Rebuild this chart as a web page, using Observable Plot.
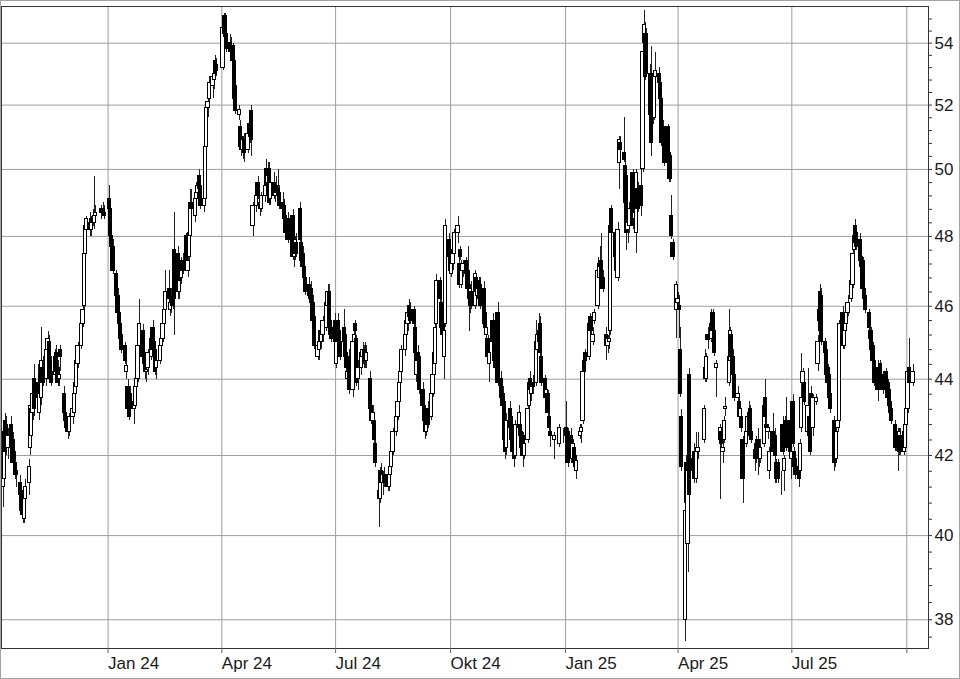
<!DOCTYPE html>
<html><head><meta charset="utf-8">
<script src="https://cdn.jsdelivr.net/npm/d3@7"></script>
<script src="https://cdn.jsdelivr.net/npm/@observablehq/plot@0.6"></script>
<style>
html,body{margin:0;padding:0;background:#fff;}
#chart{position:relative;width:960px;height:679px;overflow:hidden;}
#chart::after{content:"";position:absolute;left:0;top:0;right:0;bottom:0;border:1px solid #a3a3a3;pointer-events:none;}
#chart svg{display:block;}
</style></head>
<body><div id="chart"></div>
<script>
// ---- axis ticks / labels ----
const yTicks = [38, 40, 42, 44, 46, 48, 50, 52, 54];
const yMinorTicks = [37.6, 38.4, 38.8, 39.2, 39.6, 40.4, 40.8, 41.2, 41.6, 42.4, 42.8, 43.2, 43.6,
  44.4, 44.8, 45.2, 45.6, 46.4, 46.8, 47.2, 47.6, 48.4, 48.8, 49.2, 49.6, 50.4, 50.8, 51.2, 51.6,
  52.4, 52.8, 53.2, 53.6, 54.4, 54.8];
const xTickDates = ["2024-01-01", "2024-04-01", "2024-07-01", "2024-10-01", "2025-01-01", "2025-04-01", "2025-07-01", "2025-10-01"];
const xTickLabels = ["Jan 24", "Apr 24", "Jul 24", "Okt 24", "Jan 25", "Apr 25", "Jul 25", ""];

// ---- trading calendar ----
const firstDay = "2023-10-09";
const holidays = ["2023-12-25", "2023-12-26", "2024-01-01", "2024-03-29", "2024-04-01", "2024-05-01",
  "2024-12-24", "2024-12-25", "2024-12-26", "2024-12-31", "2025-01-01", "2025-04-18", "2025-04-21", "2025-05-01"];

// ---- daily OHLC (one line per week) ----
const open = [
41.2,41.4,42.9,42.8,42.2,
42.8,42.4,42.1,41.8,41.6,
41.3,41.1,40.8,40.4,40.9,
41.3,42.2,42.5,43.1,44.0,
43.9,43.1,44.1,43.5,44.3,
44.0,44.8,45.0,44.5,44.2,
44.1,44.7,44.3,44.0,44.8,
43.6,43.1,43.0,42.9,42.6,
43.0,43.1,43.6,43.8,44.4,
44.9,45.5,46.0,47.5,48.2,
48.4,48.2,48.5,48.4,48.6,
48.7,48.8,48.7,
49.1,48.8,48.0,47.7,
46.9,46.3,45.8,45.5,45.2,
44.9,44.2,43.8,43.4,43.6,
43.2,43.3,43.8,44.0,44.9,
45.3,44.6,44.4,44.2,44.3,
44.6,45.4,45.0,44.8,44.3,
44.5,44.9,45.1,45.5,45.9,
46.5,45.9,46.1,46.3,47.6,
47.5,46.4,47.0,46.8,47.3,
48.0,47.0,47.4,48.0,49.0,
48.6,49.1,49.3,49.8,49.5,
48.9,49.1,50.7,51.9,52.2,
52.6,52.8,53.4,53.3,
53.2,54.3,54.9,54.3,
54.0,53.9,53.9,53.4,52.6,
51.7,51.3,51.0,50.6,50.9,
50.6,51.4,51.3,51.8,48.3,
48.9,49.6,49.0,48.8,
49.2,50.0,49.6,50.0,49.1,
49.6,49.2,49.5,49.4,49.3,
49.0,48.9,48.6,48.2,48.5,
48.0,48.6,47.4,47.5,47.8,
48.8,47.8,47.5,47.1,46.8,
46.6,46.2,46.5,46.1,45.7,
44.6,44.8,45.3,45.0,45.2,
45.4,46.0,46.4,45.6,45.4,
45.6,44.4,45.6,45.3,45.0,
45.4,45.2,44.7,44.0,44.6,
43.7,45.0,45.5,45.1,44.0,
44.3,44.6,44.5,44.8,44.5,
44.0,43.3,42.9,42.9,42.3,
41.1,40.9,41.6,41.3,41.5,
41.5,41.2,41.5,41.7,42.1,
42.6,43.0,43.4,43.9,44.2,
44.8,45.2,45.5,46.0,45.9,
45.9,45.4,44.1,44.7,44.6,
43.7,43.3,43.0,42.6,43.2,
43.0,43.6,44.1,44.4,45.5,
46.7,46.1,45.6,44.6,45.5,
47.9,47.6,46.9,47.2,47.5,
48.1,47.2,47.6,46.6,47.0,
47.3,47.0,46.6,46.0,46.4,
46.0,46.8,46.3,46.7,46.6,
46.5,45.8,45.2,45.1,44.4,
45.6,45.4,45.0,44.8,45.8,
44.0,43.6,43.4,42.7,42.2,
43.2,43.0,42.6,42.3,42.0,
42.7,42.8,42.6,42.5,42.0,
42.4,43.3,44.0,43.6,43.9,
43.9,44.8,45.3,45.5,44.6,
44.0,43.5,43.6,43.0,42.6,
42.4,42.3,
42.5,42.7,42.6,
42.5,41.9,42.2,42.0,41.6,
42.5,42.6,42.9,44.5,44.7,
44.6,45.7,45.6,45.0,45.6,
46.0,46.8,47.3,47.3,46.8,
45.2,44.9,45.0,45.3,48.8,
48.1,47.4,46.8,50.2,50.8,
50.5,50.1,49.8,48.2,48.3,
49.9,48.5,48.7,48.1,49.4,
49.5,50.0,54.0,54.3,54.3,
53.0,52.1,52.9,51.6,52.9,
53.0,52.7,52.2,51.3,51.0,
51.3,50.5,50.4,48.6,47.8,
45.9,46.1,46.0,44.8,43.0,
38.0,41.8,39.8,44.1,41.9,
42.1,42.1,41.4,42.1,
42.4,44.0,44.0,45.2,
45.1,45.8,45.3,44.3,
42.4,42.6,42.1,42.4,43.2,
43.9,44.5,45.2,44.6,44.1,
43.5,43.4,43.0,43.0,42.4,
42.3,42.6,43.1,43.2,42.6,
41.9,42.3,42.4,41.9,41.9,
42.3,43.5,42.8,42.6,41.6,
42.6,42.5,42.5,41.8,41.8,
41.3,42.8,41.6,42.9,42.9,
42.9,41.9,43.4,42.1,41.9,
41.7,41.6,42.7,43.9,43.9,
42.6,43.0,42.9,43.6,42.7,
43.4,44.4,45.9,46.4,46.3,
45.0,44.8,44.3,44.1,43.6,
42.9,42.5,41.9,42.7,42.9,
45.8,44.9,45.3,45.5,45.8,
46.2,46.6,47.6,48.3,48.1,
47.9,47.4,47.3,46.5,46.3,
45.8,45.1,45.3,44.9,44.5,
44.3,44.2,44.4,43.9,44.1,
44.2,43.9,43.7,43.4,43.2,
42.8,42.2,42.6,42.1,42.5,
42.1,42.2,42.8,43.2,44.3,
43.9
];
const high = [
41.5,42.8,43.1,43.0,42.7,
43.0,42.6,42.3,42.0,41.8,
41.5,41.3,41.0,41.2,41.4,
41.9,43.5,43.4,43.9,44.4,
44.4,43.7,44.3,45.4,44.6,
44.9,45.3,45.2,44.7,44.6,
44.8,44.9,44.5,44.3,44.9,
43.8,43.3,43.1,43.0,43.1,
43.3,43.7,44.0,44.6,45.0,
45.6,46.1,47.6,48.5,48.6,
48.7,48.6,48.8,49.8,48.9,
48.9,49.0,48.9,
49.5,49.0,48.3,47.9,
47.0,46.5,46.0,45.7,45.3,
45.0,44.5,44.0,43.6,43.8,
43.5,44.6,44.2,45.0,46.2,
45.5,44.9,44.6,44.4,44.8,
45.2,45.6,45.2,45.0,44.6,
45.0,45.2,45.6,46.0,47.0,
47.0,46.2,46.5,46.6,48.7,
47.7,47.0,47.3,47.4,47.5,
48.1,47.4,48.2,49.4,49.4,
49.2,49.6,49.7,50.0,49.6,
49.3,50.8,52.0,52.3,52.9,
53.1,53.2,53.6,53.5,
54.7,55.0,55.0,54.5,
54.3,54.2,54.0,53.6,52.8,
52.0,51.5,51.2,51.0,51.1,
51.2,51.6,51.5,52.0,49.0,
49.3,49.8,49.1,49.3,
49.6,50.3,50.2,50.2,49.7,
49.9,49.6,49.8,50.0,49.5,
49.3,49.1,48.8,48.4,48.7,
48.4,48.8,47.8,48.0,48.1,
49.0,48.0,47.7,47.3,47.0,
46.8,46.6,46.7,46.3,45.9,
45.0,45.1,45.5,45.4,45.7,
46.2,46.6,46.6,45.8,45.6,
45.8,45.1,45.8,45.5,45.3,
45.9,45.4,44.9,44.3,44.8,
45.2,45.4,45.6,45.2,44.5,
44.8,45.0,44.9,45.0,44.9,
44.2,43.5,43.3,43.0,42.4,
41.2,41.7,41.8,41.6,41.7,
41.6,41.6,41.8,42.2,42.7,
43.1,43.5,44.0,44.3,44.9,
45.3,45.7,45.9,46.2,46.1,
46.0,45.5,44.8,44.9,44.7,
43.9,43.5,43.2,43.0,43.4,
43.7,44.2,44.8,45.5,46.9,
46.8,46.2,45.8,45.4,48.5,
48.1,47.7,47.3,47.6,48.2,
48.6,47.4,47.7,47.3,47.3,
47.4,47.7,46.8,46.6,46.7,
47.0,46.9,46.6,46.8,46.8,
46.7,45.9,45.5,45.2,44.8,
45.8,45.6,45.2,45.0,46.1,
44.2,43.8,43.5,42.9,43.1,
43.4,43.1,42.8,42.5,42.9,
43.3,43.0,42.8,42.6,42.4,
43.4,44.0,44.2,44.0,44.1,
45.6,45.3,45.8,45.7,44.8,
44.1,43.8,43.7,43.1,42.9,
42.6,42.8,
42.7,43.4,42.7,
42.7,42.4,42.3,42.1,41.9,
42.8,42.8,44.3,44.6,44.8,
45.7,45.8,45.7,45.4,45.9,
47.4,47.3,47.7,48.1,47.0,
45.4,45.2,45.3,48.5,48.9,
48.2,47.6,48.4,51.0,51.0,
51.6,50.3,50.0,48.6,49.0,
50.0,49.2,49.7,50.0,49.6,
51.2,53.8,55.1,54.7,54.5,
53.3,53.9,53.1,53.1,53.7,
53.2,52.9,52.4,51.5,51.2,
51.4,50.7,50.5,49.2,47.9,
46.7,46.4,46.3,45.4,43.2,
40.8,42.0,41.7,44.3,42.1,
42.3,42.2,42.6,42.6,
43.3,44.8,44.7,45.4,
45.9,45.9,45.4,44.5,
42.8,42.7,42.5,43.0,43.5,
45.9,45.4,45.3,44.8,44.3,
43.8,43.6,43.3,43.1,42.5,
42.7,43.1,43.4,43.3,42.8,
42.4,42.5,42.7,42.3,42.4,
43.4,44.0,43.0,42.8,42.2,
43.1,42.6,42.7,41.9,41.9,
41.6,43.0,42.0,43.0,43.5,
43.1,42.2,43.6,42.2,42.0,
41.8,42.4,44.7,44.3,44.1,
44.3,43.2,43.0,43.8,43.6,
43.6,45.2,46.0,46.6,46.5,
45.1,44.9,44.4,44.2,43.7,
43.0,42.6,42.7,43.0,45.6,
46.0,45.5,45.7,45.9,46.3,
46.8,47.6,48.2,48.5,48.3,
48.1,47.5,47.4,46.7,46.4,
45.9,45.4,45.4,45.0,44.6,
44.5,44.3,44.5,44.2,44.2,
44.3,44.0,43.8,43.5,43.3,
42.9,42.6,42.7,42.7,42.7,
42.7,42.9,43.3,44.3,45.1,
44.4
];
const low = [
40.7,41.3,41.9,42.0,41.9,
42.0,41.6,41.7,41.4,41.2,
40.7,40.5,40.3,40.3,40.6,
41.0,42.0,42.3,42.9,43.0,
43.4,42.9,43.5,43.3,43.8,
43.8,44.6,44.2,43.9,43.8,
44.0,44.1,43.8,43.8,44.2,
43.0,42.8,42.6,42.4,42.5,
42.8,43.0,43.4,43.7,44.3,
44.8,45.4,45.9,47.4,48.0,
48.0,48.0,48.3,48.2,48.4,
48.5,48.6,48.5,
48.6,47.8,47.5,46.9,
46.1,45.6,45.3,45.0,44.7,
44.4,44.0,43.1,42.9,43.0,
42.8,43.2,43.6,43.9,44.8,
44.5,44.2,44.0,43.9,44.1,
44.5,44.7,44.5,44.1,44.0,
44.4,44.6,45.0,45.3,45.8,
46.1,45.7,45.8,45.9,45.2,
46.2,46.2,46.5,46.6,46.9,
47.0,46.8,47.2,47.8,48.6,
48.4,49.0,49.2,49.2,48.8,
48.7,49.0,50.6,51.6,52.0,
52.2,52.5,52.8,52.9,
53.1,54.1,54.0,53.7,
53.5,53.6,53.2,52.1,51.7,
51.5,50.6,50.4,50.3,50.2,
50.5,51.0,50.8,50.4,48.0,
48.7,49.1,48.6,48.7,
49.0,49.4,49.2,48.9,48.9,
49.1,49.0,49.2,49.1,48.8,
48.7,48.4,48.0,47.9,47.8,
47.8,47.3,47.1,47.3,47.4,
47.8,47.2,47.0,46.7,46.3,
46.2,46.0,46.0,45.5,44.8,
44.5,44.5,44.9,44.8,45.0,
45.3,45.9,45.5,45.1,45.0,
44.9,44.3,45.1,44.8,44.5,
44.9,44.5,44.2,43.8,43.6,
43.5,44.7,45.2,43.8,43.7,
44.1,44.4,44.3,44.3,44.3,
43.1,42.8,42.8,42.3,41.7,
40.2,40.8,41.2,41.0,41.2,
41.1,41.1,41.3,41.6,42.0,
42.5,42.9,43.3,43.7,44.1,
44.6,45.0,45.3,45.6,45.5,
45.4,44.6,43.9,44.4,43.6,
43.2,42.8,42.4,42.5,42.7,
42.9,43.5,44.0,44.3,45.4,
46.1,45.3,45.1,44.0,45.4,
47.3,46.9,46.8,47.0,47.4,
47.8,46.5,47.3,46.5,46.8,
46.8,46.4,45.3,45.8,45.9,
45.9,46.3,46.2,46.1,45.9,
45.4,45.3,45.0,44.5,43.9,
44.9,44.4,44.2,44.2,43.8,
43.4,43.2,42.3,41.9,42.0,
42.6,42.3,42.0,41.7,41.9,
42.5,42.4,42.1,41.7,41.9,
42.3,43.2,43.6,43.4,43.6,
43.8,44.7,44.9,44.6,43.8,
43.4,43.3,43.0,42.6,42.2,
41.9,42.2,
42.3,42.4,41.7,
41.8,41.8,41.7,41.6,41.4,
42.4,42.3,42.8,44.1,44.4,
44.5,45.2,45.2,44.9,45.5,
45.9,46.6,47.0,46.6,46.4,
44.5,44.7,44.8,45.2,48.0,
47.3,46.9,46.7,49.4,50.4,
50.2,48.9,47.6,47.8,48.1,
48.2,48.3,48.5,47.5,48.7,
48.6,49.9,53.9,52.8,52.9,
51.6,50.4,51.4,51.5,52.8,
52.6,52.1,50.7,50.7,50.1,
50.1,49.6,49.6,47.9,47.3,
45.1,45.9,45.1,43.5,41.6,
37.5,40.7,39.1,40.8,41.4,
41.3,41.6,41.3,41.9,
42.3,43.9,43.9,44.8,
45.0,45.2,44.6,43.5,
40.9,42.2,41.8,42.3,43.0,
43.8,44.4,44.5,44.0,43.4,
43.3,42.9,42.9,42.6,40.8,
42.2,42.5,42.5,42.4,42.3,
41.6,41.8,41.5,41.7,41.8,
42.2,42.9,42.6,42.4,41.4,
42.0,42.1,41.3,41.3,41.3,
41.0,42.0,41.1,42.3,42.1,
42.0,41.4,42.2,41.5,41.4,
41.2,41.5,42.6,43.7,43.3,
42.1,42.4,42.0,42.8,42.5,
43.3,44.2,45.5,45.2,44.9,
44.6,44.0,43.8,43.4,43.1,
41.6,41.7,41.8,42.6,42.8,
44.8,44.8,45.2,45.4,45.7,
46.1,46.5,47.5,47.7,47.6,
47.2,47.0,46.4,46.1,45.8,
45.3,45.0,44.7,44.4,43.8,
43.4,43.8,43.9,43.8,43.6,
43.6,43.4,43.2,43.0,42.8,
42.1,42.1,41.6,42.0,42.0,
42.0,42.1,42.7,43.1,43.8,
43.8
];
const close = [
41.4,42.6,42.1,42.2,42.5,
42.2,41.8,41.9,41.5,41.5,
41.0,40.6,40.5,41.1,41.2,
41.7,43.3,43.2,43.6,43.2,
43.5,43.6,43.7,44.5,43.9,
44.8,45.1,44.3,44.0,43.9,
44.6,44.2,43.9,44.1,44.6,
43.1,42.9,42.7,42.6,43.0,
43.2,43.6,43.9,44.5,44.9,
45.5,45.9,47.5,48.3,48.5,
48.2,48.5,48.4,48.6,48.7,
48.8,48.7,48.6,
48.8,48.0,47.7,47.0,
46.3,45.8,45.5,45.1,44.8,
44.5,44.35,43.2,43.0,43.2,
43.4,43.8,44.0,44.9,45.5,
44.6,44.4,44.2,44.25,44.7,
45.1,44.8,44.6,44.2,44.5,
44.9,45.1,45.5,45.9,46.4,
46.2,46.1,46.3,46.0,46.2,
46.4,46.9,46.7,47.3,47.0,
47.1,47.3,48.1,49.0,48.8,
49.1,49.3,49.5,49.4,48.9,
49.1,50.7,51.9,52.1,52.7,
52.9,53.0,53.0,53.1,
54.5,54.9,54.2,53.8,
53.7,53.8,53.4,52.2,51.8,
51.85,50.7,50.6,50.9,50.5,
51.1,51.1,51.0,50.9,48.9,
49.2,49.2,48.8,49.2,
49.5,49.5,49.8,49.0,49.6,
49.2,49.5,49.3,49.3,48.9,
48.8,48.5,48.1,48.3,47.9,
48.3,47.4,47.6,47.9,47.5,
47.9,47.3,47.1,46.8,46.4,
46.3,46.5,46.1,45.6,44.9,
44.9,45.0,45.0,45.3,45.6,
46.1,46.4,45.6,45.2,45.1,
45.0,45.0,45.2,44.9,44.6,
45.0,44.6,44.3,44.2,43.7,
45.0,45.2,45.3,43.9,44.3,
44.7,44.8,44.8,44.5,44.7,
43.2,42.9,43.1,42.4,41.8,
40.9,41.6,41.3,41.5,41.3,
41.2,41.5,41.7,42.1,42.6,
43.0,43.4,43.9,44.2,44.8,
45.2,45.6,45.8,45.7,45.6,
45.5,44.7,44.7,44.5,43.7,
43.3,42.9,42.6,42.9,42.8,
43.6,44.1,44.7,45.4,46.7,
46.2,45.4,45.2,45.3,48.3,
47.4,47.0,47.2,47.5,48.1,
48.3,46.6,47.4,47.2,47.2,
46.9,46.5,46.2,46.5,46.0,
46.9,46.4,46.5,46.2,46.0,
45.5,45.4,45.4,44.6,44.7,
45.0,44.5,44.3,44.3,43.9,
43.5,43.3,42.4,42.1,42.9,
42.7,42.4,42.1,41.9,42.8,
43.1,42.5,42.2,42.0,42.3,
43.2,43.9,43.7,43.9,43.8,
45.0,45.2,45.0,44.7,43.9,
43.5,43.7,43.1,42.7,42.5,
42.5,42.7,
42.5,42.5,41.8,
41.9,42.3,41.8,41.7,41.85,
42.6,42.7,44.2,44.2,44.5,
45.5,45.3,45.3,45.2,45.8,
47.0,47.2,47.1,46.7,46.5,
44.9,45.1,45.1,48.3,48.1,
47.4,47.0,48.2,50.9,50.6,
50.3,49.0,48.1,48.4,48.8,
48.3,49.1,49.6,49.9,48.8,
48.9,53.7,54.6,52.9,53.0,
51.7,50.8,51.6,53.0,53.1,
52.7,52.2,50.8,50.8,50.2,
50.2,49.7,49.7,48.0,47.4,
46.6,46.2,45.9,43.6,41.7,
40.6,40.8,41.6,41.0,41.6,
41.4,41.8,42.1,42.2,
43.2,44.3,44.6,45.05,
45.5,45.3,44.7,44.4,
42.7,42.3,42.2,42.9,43.25,
44.6,45.3,44.6,44.1,43.5,
43.6,43.0,43.2,42.7,41.4,
42.6,43.0,42.6,42.5,42.4,
42.15,41.9,41.9,42.2,42.2,
43.3,43.0,42.7,42.7,42.1,
42.1,42.2,42.0,41.4,41.4,
41.3,42.1,41.9,42.4,42.2,
42.1,42.1,42.3,41.7,41.5,
41.4,42.3,43.5,44.2,43.4,
43.3,42.5,42.1,42.9,43.5,
43.5,45.0,45.6,45.3,45.0,
44.7,44.1,43.9,43.5,43.2,
41.8,41.8,42.6,42.9,45.5,
44.9,45.3,45.6,45.8,46.1,
46.7,47.5,48.0,47.8,47.7,
47.3,47.1,46.5,46.2,45.9,
45.4,45.3,44.8,44.5,43.9,
43.7,43.9,44.0,44.1,43.7,
43.7,43.5,43.3,43.1,42.9,
42.2,42.5,42.2,42.6,42.1,
42.6,42.8,43.2,44.2,43.9,
44.2
];

// ---- build table ----
const n = Math.min(open.length, high.length, low.length, close.length);
if (!(open.length === high.length && high.length === low.length && low.length === close.length)) {
  console.warn("length mismatch", open.length, high.length, low.length, close.length);
}
const holidaySet = new Set(holidays);
const dates = [];
for (let t = Date.parse(firstDay + "T00:00:00Z"); dates.length < n; t += 864e5) {
  const d = new Date(t);
  const wd = d.getUTCDay();
  if (wd === 0 || wd === 6) continue;
  if (holidaySet.has(d.toISOString().slice(0, 10))) continue;
  dates.push(d);
}
const data = dates.map((date, i) => ({date, open: open[i], high: high[i], low: low[i], close: close[i]}));

const xTicks = xTickDates.map(s => new Date(s + "T00:00:00Z"));
const labelOf = new Map(xTicks.map((d, i) => [+d, xTickLabels[i]]));
const DAY = 864e5;
const HALF = 1.3 * DAY;
const FONT = "'Liberation Sans', Arial, Helvetica, sans-serif";

const chart = Plot.plot({
  width: 960,
  height: 679,
  marginTop: 6,
  marginRight: 32,
  marginBottom: 31,
  marginLeft: 1,
  style: {background: "#fff", fontFamily: FONT, fontSize: "17px", color: "#1a1a1a"},
  x: {type: "utc", domain: [new Date(Date.UTC(2023, 9, 7, 17, 30)), new Date(Date.UTC(2025, 9, 18, 8, 10))], label: null},
  y: {type: "log", domain: [37.34, 55.22], label: null},
  marks: [
    Plot.gridY(yTicks, {stroke: "#9e9e9e", strokeOpacity: 1, strokeWidth: 1}),
    Plot.gridX(xTicks, {stroke: "#9e9e9e", strokeOpacity: 1, strokeWidth: 1}),
    Plot.ruleX(data, {x: "date", y1: "low", y2: "high", stroke: "#222", strokeWidth: 1, shapeRendering: "crispEdges"}),
    Plot.rect(data, {
      x1: d => new Date(+d.date - HALF),
      x2: d => new Date(+d.date + HALF),
      y1: "open",
      y2: "close",
      fill: d => d.close >= d.open ? "#ffffff" : "#000000",
      stroke: "#000",
      strokeWidth: 1,
      shapeRendering: "crispEdges"
    }),
    Plot.frame({stroke: "#333", strokeWidth: 1}),
    Plot.axisY(yMinorTicks, {anchor: "right", tickSize: 3, stroke: "#333", tickFormat: () => "", label: null}),
    Plot.axisY(yTicks, {anchor: "right", tickSize: 3, tickPadding: 3, stroke: "#333", fill: "#1a1a1a",
      tickFormat: d => String(d), label: null, fontSize: 17}),
    Plot.axisX(xTicks, {anchor: "bottom", tickSize: 5, tickPadding: 3, stroke: "#666", fill: "#1a1a1a",
      tickFormat: d => labelOf.get(+d), textAnchor: "start", dx: 0, label: null, fontSize: 17})
  ]
});
document.getElementById("chart").appendChild(chart);
</script>
</body></html>
